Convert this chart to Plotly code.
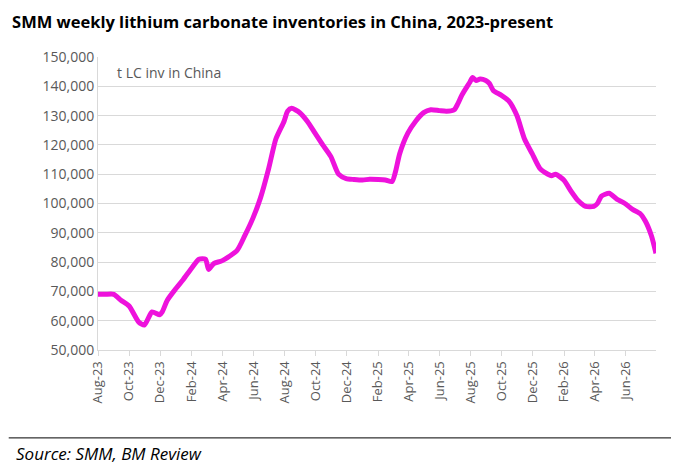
import plotly.graph_objects as go

dates = ["2023-08-01","2023-08-15","2023-09-01","2023-09-15","2023-10-01","2023-10-20","2023-10-31","2023-11-15","2023-11-30","2023-12-05","2023-12-15",
"2024-01-01","2024-01-15","2024-02-01","2024-02-15","2024-02-28","2024-03-05","2024-03-15","2024-04-01","2024-04-30","2024-05-15","2024-05-31",
"2024-06-15","2024-07-01","2024-07-15","2024-07-31","2024-08-07","2024-08-15","2024-08-31","2024-09-15","2024-09-30","2024-10-15","2024-10-31",
"2024-11-15","2024-11-30","2024-12-15","2025-01-01","2025-01-15","2025-02-01","2025-02-15","2025-02-28","2025-03-07","2025-03-15","2025-03-31",
"2025-04-15","2025-05-01","2025-05-15","2025-06-01","2025-06-15","2025-06-30","2025-07-07","2025-07-15","2025-07-31","2025-08-05","2025-08-12",
"2025-08-20","2025-08-31","2025-09-07","2025-09-15","2025-09-30","2025-10-15","2025-10-31","2025-11-15","2025-11-30","2025-12-15","2025-12-31",
"2026-01-07","2026-01-15","2026-01-31","2026-02-15","2026-02-28","2026-03-15","2026-03-31","2026-04-07","2026-04-15","2026-04-30","2026-05-15",
"2026-05-31","2026-06-15","2026-06-30","2026-07-10","2026-07-22","2026-07-31"]
inventory = [69000,69000,69000,67000,65000,59500,58500,63000,62000,63000,67000,
71000,74000,78000,81000,81000,77500,79500,80500,84000,89000,95000,
102000,112000,122000,128000,131500,132500,131000,128000,124000,120000,116000,
110000,108500,108200,108000,108300,108200,108000,107500,111000,117000,124000,
128000,131000,132000,131700,131500,132000,134000,137000,141500,143000,142000,
142500,142000,141000,138500,137000,135000,130000,122000,117000,112000,110000,
109500,110000,108000,104000,101000,99000,99000,100000,102500,103500,101500,
100000,98000,96500,94000,89000,83000]
tick_dates = ["2023-08-01","2023-10-01","2023-12-01","2024-02-01","2024-04-01","2024-06-01","2024-08-01",
              "2024-10-01","2024-12-01","2025-02-01","2025-04-01","2025-06-01","2025-08-01","2025-10-01",
              "2025-12-01","2026-02-01","2026-04-01","2026-06-01"]
tick_labels = ["Aug-23","Oct-23","Dec-23","Feb-24","Apr-24","Jun-24","Aug-24","Oct-24","Dec-24","Feb-25",
               "Apr-25","Jun-25","Aug-25","Oct-25","Dec-25","Feb-26","Apr-26","Jun-26"]

fig = go.Figure(go.Scatter(x=dates, y=inventory, mode="lines",
    line=dict(color="#EE12DC", width=5, shape="spline", smoothing=0.6)))

fig.update_layout(
    width=679, height=473, paper_bgcolor="white", plot_bgcolor="white",
    margin=dict(l=90, r=31, t=49, b=131),
    font=dict(family="Open Sans", color="#595959", size=13),
    showlegend=False,
    title=dict(text="<b>SMM weekly lithium carbonate inventories in China, 2023-present</b>",
               x=0.006, xanchor="left", y=0.982, yanchor="top",
               font=dict(size=16.5, color="black", family="Open Sans")),
    annotations=[
        dict(text="t LC inv in China", xref="paper", yref="paper", x=0.03, y=0.985,
             xanchor="left", yanchor="top", showarrow=False, font=dict(size=14, color="#595959")),
        dict(text="<i>Source: SMM, BM Review</i>", xref="paper", yref="paper", x=-0.15, y=0,
             yshift=-103, xanchor="left", yanchor="middle", showarrow=False, font=dict(size=17, color="black")),
    ],
    shapes=[dict(type="line", xref="paper", yref="paper", x0=-0.16, x1=1.06, y0=-0.30, y1=-0.30,
                 line=dict(color="black", width=1))],
)
fig.update_xaxes(type="date", range=["2023-08-01","2026-07-31"], tickvals=tick_dates, ticktext=tick_labels,
                 tickangle=-90, showgrid=False,
                 showline=True, linecolor="#d9d9d9", ticks="outside", tickcolor="#d9d9d9", ticklen=5,
                 tickfont=dict(size=13))
fig.update_yaxes(range=[50000,150000], dtick=10000, tickformat=",", showgrid=True,
                 gridcolor="#d9d9d9", showline=True, linecolor="#d9d9d9", tickfont=dict(size=14))
fig.write_html("out.html")
